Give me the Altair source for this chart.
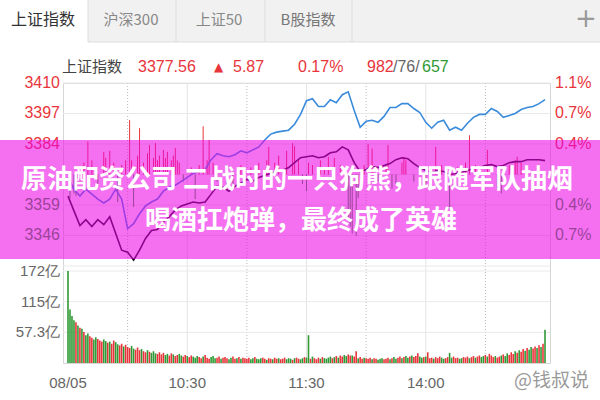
import altair as alt
import pandas as pd

# ---------------- data ----------------
# minutes since 09:30 (lunch break removed), one point every 3 minutes
line_minutes = list(range(0, 241, 3))

# 上证指数 intraday price
index_close = [
    3362.55, 3356.31, 3350.07, 3352.56, 3349.65, 3352.56, 3350.48, 3353.81, 3346.74, 3339.66,
    3338.83, 3335.50, 3339.66, 3344.66, 3347.99, 3348.40, 3351.73, 3353.81, 3356.73, 3358.39,
    3359.22, 3360.06, 3359.64, 3360.06, 3363.39, 3366.72, 3366.30, 3364.63, 3366.72, 3367.96,
    3369.63, 3368.80, 3370.46, 3371.29, 3372.13, 3372.96, 3373.37, 3374.62, 3376.70, 3378.78,
    3379.20, 3379.62, 3378.78, 3379.20, 3380.87, 3381.28, 3383.36, 3382.11, 3376.70, 3372.96,
    3373.79, 3375.04, 3374.62, 3375.46, 3376.29, 3377.95, 3378.78, 3378.37, 3376.29, 3374.62,
    3373.37, 3372.54, 3373.37, 3372.96, 3371.71, 3372.13, 3372.54, 3373.37, 3374.21, 3374.62,
    3375.46, 3375.87, 3375.04, 3375.46, 3376.70, 3377.12, 3377.12, 3377.95, 3377.95, 3377.95,
    3377.56,
]

# leading indicator line
lead_line = [
    3370.46, 3365.47, 3362.55, 3365.47, 3363.39, 3361.30, 3359.64, 3361.30, 3365.47, 3361.30,
    3348.82, 3350.90, 3355.06, 3358.39, 3360.06, 3361.30, 3364.63, 3366.30, 3367.13, 3368.80,
    3370.46, 3372.13, 3372.96, 3373.79, 3377.95, 3380.45, 3379.62, 3379.20, 3380.03, 3381.70,
    3380.87, 3382.11, 3383.36, 3386.28, 3388.77, 3389.61, 3390.02, 3390.44, 3392.94, 3397.10,
    3402.92, 3403.76, 3400.43, 3400.43, 3403.34, 3402.09, 3405.42, 3406.67, 3398.76, 3391.69,
    3394.18, 3394.60, 3393.77, 3396.27, 3400.01, 3400.01, 3401.68, 3401.68, 3399.59, 3397.93,
    3393.77, 3391.27, 3393.77, 3394.60, 3390.44, 3391.69, 3390.44, 3393.35, 3395.85, 3397.10,
    3397.10, 3399.59, 3398.35, 3395.85, 3396.68, 3397.51, 3399.18, 3400.01, 3400.43, 3401.68,
    3403.34,
]

prev_close = 3371.69

# buy / sell strength bars around the previous close
strength_minutes = [
    1, 3, 4, 8, 10, 12, 15, 18, 19, 21,
    23, 25, 27, 29, 31, 32, 33, 35, 36, 38,
    40, 41, 43, 44, 45, 46, 48, 49, 50, 52,
    53, 54, 55, 56, 58, 62, 64, 66, 68, 70,
    71, 73, 75, 80, 83, 87, 92, 96, 100, 101,
    104, 106, 110, 113, 114, 116, 118, 120, 121, 123,
    127, 129, 131, 134, 137, 141, 142, 143, 145, 146,
    149, 151, 153, 156, 160, 161, 163, 165, 168, 169,
    170, 174, 180, 185, 188, 192, 196, 200, 202, 205,
    211, 216, 218, 222, 225, 226, 228, 231, 234, 237,
]
strength_values = [
    -10, -8, -9, 5, 14, 6, -4, 9.5, 7, 10,
    5, -11.7, 4, 6, 23, 6, -13.7, 8, 19.6, 5,
    9, 12.5, 7, 13.3, 6, 8, 10.4, 7, 9.6, 6,
    8, 11.2, 6, 5, -3, 3, -10.4, 4, 20.4, 6,
    14.6, 5, -3, -6, -5, 4, 3, 5, 6, 11.7,
    5, 8, 10, 13.3, 12, 6, -4, -7, 5, 4,
    6, 3, 7.5, 7, 4, -18, -22, -25, -26, -10,
    4, 13, 11, -3, 4, 12.5, -6, -4, 5, 7.5,
    6, -3, -5, 11.7, 4, -14.6, 3, 5, 16.6, 4,
    10.4, -6.2, -8, 4, 6, 7.5, 5, 4, -3, 3,
]

# per-minute turnover (亿)
volume_values = [
    172, 100, 88, 80, 76, 70, 66, 64, 58, 52, 55, 50, 47, 44, 48, 45, 42, 40, 44, 41, 38, 40, 36, 42, 39, 35, 33, 36, 31, 34,
    30, 28, 32, 27, 25, 29, 24, 26, 22, 20, 24, 21, 19, 22, 18, 17, 20, 16, 19, 15, 17, 14, 18, 16, 13, 15, 17, 14, 12, 15,
    13, 11, 14, 12, 10, 13, 11, 9, 12, 15, 10, 8, 11, 13, 9, 10, 12, 8, 10, 11, 9, 7, 10, 12, 8, 9, 11, 8, 10, 9,
    8, 10, 7, 9, 11, 8, 7, 9, 10, 8, 6, 9, 8, 7, 10, 8, 9, 7, 8, 10, 7, 9, 8, 6, 9, 10, 8, 7, 9, 11,
    10, 52, 8, 12, 9, 7, 10, 8, 11, 9, 8, 10, 12, 9, 11, 13, 10, 14, 12, 15, 13, 16, 14, 14, 12, 22, 9, 11, 8, 10,
    9, 8, 10, 7, 9, 8, 6, 8, 9, 7, 8, 10, 7, 9, 11, 8, 10, 12, 9, 11, 13, 10, 12, 14, 11, 13, 18, 12, 10, 11,
    12, 20, 9, 10, 8, 11, 9, 12, 10, 8, 9, 11, 19, 10, 12, 9, 10, 8, 9, 11, 10, 12, 9, 11, 13, 10, 12, 14, 11, 13,
    15, 12, 17, 14, 11, 13, 10, 12, 14, 16, 13, 18, 15, 20, 17, 22, 19, 24, 21, 26, 23, 28, 25, 30, 27, 31, 28, 33, 30, 36,
    62,
]
# r = up minute, g = down minute
volume_sides = (
    "ggggrgrgrg" "grrggrrrgg" "rgrrggrrgr" "rrggrrrgrr" "grgggrrrrg" "grrgrrggrr"
    "grrgggrrgr" "rrgggrrgrr" "rggrrgrgrr" "rrggrgggrr" "grrgrrgrrr" "gggrgrrggr"
    "ggrgrrrgrg" "gggrgrgrrg" "grrgrrgrrg" "rrrgrrgggr" "rrgrggrrgr" "ggrgrrrggr"
    "grrrgrrrgg" "rrggrrrggr" "rrgrrgrrgg" "rgrrrgrrgr" "ggrrrgrgrr" "grggrrgrgr"
    "g"
)

price_ticks = [3410.39, 3397.49, 3384.59, 3371.69, 3358.79, 3345.89, 3332.99]
price_labels = ["3410", "3397", "3384", "", "3359", "3346", ""]
pct_labels = ["1.1%", "0.7%", "0.4%", "", "0.4%", "0.7%", ""]

vol_ticks = [57.3, 114.6, 172.0]
vol_labels = ["57.3亿", "115亿", "172亿"]

time_ticks = [0, 60, 120, 180]
time_labels = ["08/05", "10:30", "11:30", "14:00"]
half_hour_ticks = [30, 90, 150, 210]

# ---------------- styling ----------------
RED = "#e8353b"
GREEN = "#2f9a35"
GRAY = "#777777"
NUM_FONT = "Liberation Sans, Arial"
CJK_FONT = "Noto Sans CJK SC"

W, H = 487, 280
LEFT, TOP = 63, 83

x_scale = alt.Scale(domain=[0, 240], nice=False, zero=False)
price_scale = alt.Scale(domain=[3291.96, 3410.39], nice=False, zero=False)
vol_scale = alt.Scale(domain=[0, 523.5], nice=False, zero=False)

one = pd.DataFrame({"k": [0]})


def px(x):
    return alt.value(x - LEFT)


def py(y):
    return alt.value(y - TOP)


def text_at(text, x, y, size, color, align="left", font=NUM_FONT, weight="normal"):
    return alt.Chart(one).mark_text(
        text=text, align=align, baseline="middle", fontSize=size,
        color=color, font=font, fontWeight=weight,
    ).encode(x=px(x), y=py(y))


def rect_at(x1, x2, y1, y2, color, opacity=1.0):
    return alt.Chart(one).mark_rect(color=color, opacity=opacity).encode(
        x=px(x1), x2=px(x2), y=py(y1), y2=py(y2)
    )


def rule_at(x1, x2, y1, y2, color, width=1.0):
    return alt.Chart(one).mark_rule(color=color, strokeWidth=width).encode(
        x=px(x1), x2=px(x2), y=py(y1), y2=py(y2)
    )


# ---------------- tab bar ----------------
tabs = [
    rect_at(0, 600, 0, 42, "#f1f1f1"),
    rect_at(0, 88, 0, 42, "#ffffff"),
    rule_at(88, 600, 42, 42, "#dddddd"),
    rule_at(88, 88, 0, 42, "#dddddd"),
    rule_at(176, 176, 0, 42, "#dddddd"),
    rule_at(265, 265, 0, 42, "#dddddd"),
    rule_at(352, 352, 0, 42, "#dddddd"),
    text_at("上证指数", 43, 20, 16, "#333333", "center", CJK_FONT),
    text_at("沪深300", 131, 20, 15, "#888888", "center", CJK_FONT),
    text_at("上证50", 219, 20, 15, "#888888", "center", CJK_FONT),
    text_at("B股指数", 308, 20, 15, "#777777", "center", CJK_FONT),
    text_at("+", 586, 19, 26, "#999999", "center", "DejaVu Sans"),
]

# ---------------- header quote ----------------
header = [
    text_at("上证指数", 62, 67, 15, "#444444", "left", CJK_FONT),
    text_at("3377.56", 138, 67, 16, RED),
    text_at("▲", 214, 67, 12, RED, "left", "DejaVu Sans"),
    text_at("5.87", 233, 67, 16, RED),
    text_at("0.17%", 298, 67, 16, RED),
    text_at("982", 367, 67, 16, RED),
    text_at("/76/", 393, 67, 16, "#666666"),
    text_at("657", 422, 67, 16, GREEN),
]

# ---------------- grids ----------------
price_grid = alt.Chart(pd.DataFrame({"v": price_ticks})).mark_rule(
    color="#e9e9e9", strokeWidth=1
).encode(y=alt.Y("v:Q", scale=price_scale, axis=None))

vol_grid = alt.Chart(pd.DataFrame({"v": vol_ticks})).mark_rule(
    color="#e9e9e9", strokeWidth=1
).encode(y=alt.Y("v:Q", scale=vol_scale, axis=None))

solid_v = alt.Chart(pd.DataFrame({"m": time_ticks[1:]})).mark_rule(
    color="#e4e4e4", strokeWidth=1
).encode(x=alt.X("m:Q", scale=x_scale, axis=None))

dotted_v = alt.Chart(pd.DataFrame({"m": half_hour_ticks})).mark_rule(
    color="#b8b8b8", strokeWidth=1, strokeDash=[1, 2]
).encode(x=alt.X("m:Q", scale=x_scale, axis=None))

# ---------------- price panel ----------------
line_df = pd.DataFrame({"m": line_minutes, "close": index_close, "lead": lead_line})

strength_df = pd.DataFrame({
    "m": strength_minutes,
    "base": [prev_close] * len(strength_minutes),
    "top": [prev_close + v for v in strength_values],
    "up": [v > 0 for v in strength_values],
})
strength = alt.Chart(strength_df).mark_rule(strokeWidth=1).encode(
    x=alt.X("m:Q", scale=x_scale, axis=None),
    y=alt.Y("base:Q", scale=price_scale, axis=None),
    y2="top:Q",
    color=alt.condition("datum.up", alt.value(RED), alt.value(GREEN)),
)

lead = alt.Chart(line_df).mark_line(color="#3a8bdc", strokeWidth=1.6).encode(
    x=alt.X("m:Q", scale=x_scale, axis=None),
    y=alt.Y("lead:Q", scale=price_scale, axis=None),
)
close = alt.Chart(line_df).mark_line(color="#140818", strokeWidth=1.6).encode(
    x=alt.X("m:Q", scale=x_scale, axis=None),
    y=alt.Y("close:Q", scale=price_scale, axis=None),
)

label_df = pd.DataFrame({
    "v": price_ticks,
    "price": price_labels,
    "pct": pct_labels,
    "c": [RED, RED, RED, GRAY, GREEN, GREEN, GREEN],
})
left_labels = alt.Chart(label_df).mark_text(
    align="right", baseline="middle", fontSize=16, font=NUM_FONT
).encode(
    x=alt.value(-3),
    y=alt.Y("v:Q", scale=price_scale, axis=None),
    text="price:N",
    color=alt.Color("c:N", scale=None),
)
right_labels = alt.Chart(label_df).mark_text(
    align="left", baseline="middle", fontSize=16, font=NUM_FONT
).encode(
    x=alt.value(W + 5),
    y=alt.Y("v:Q", scale=price_scale, axis=None),
    text="pct:N",
    color=alt.Color("c:N", scale=None),
)

price_layer = alt.layer(price_grid, strength, lead, close, left_labels, right_labels)

# ---------------- volume panel ----------------
vol_df = pd.DataFrame({
    "m": list(range(len(volume_values))),
    "vol": volume_values,
    "side": list(volume_sides[: len(volume_values)]),
})
vol_bars = alt.Chart(vol_df).mark_bar(size=1.6).encode(
    x=alt.X("m:Q", scale=x_scale, axis=None),
    y=alt.Y("vol:Q", scale=vol_scale, axis=None),
    color=alt.condition("datum.side == 'r'", alt.value(RED), alt.value(GREEN)),
)
vol_label_df = pd.DataFrame({"v": vol_ticks, "t": vol_labels})
vol_text = alt.Chart(vol_label_df).mark_text(
    align="right", baseline="middle", fontSize=15, font=NUM_FONT, color="#666666"
).encode(
    x=alt.value(-3),
    y=alt.Y("v:Q", scale=vol_scale, axis=None),
    text="t:N",
)
vol_layer = alt.layer(vol_grid, vol_bars, vol_text)

# ---------------- time axis labels ----------------
time_text = alt.Chart(pd.DataFrame({"m": time_ticks, "t": time_labels})).mark_text(
    align="center", baseline="middle", fontSize=15, font=NUM_FONT, color="#666666"
).encode(
    x=alt.X("m:Q", scale=x_scale, axis=None),
    y=py(383),
    text="t:N",
)

# ---------------- headline banner ----------------
banner = [
    rect_at(0, 600, 140, 259, "#ee00e6", 0.56),
    text_at("原油配资公司 二战时的一只狗熊，跟随军队抽烟", 297, 180, 26, "#ffffff",
            "center", CJK_FONT, "bold"),
    text_at("喝酒扛炮弹，最终成了英雄", 301, 221, 26, "#ffffff",
            "center", CJK_FONT, "bold"),
]

# ---------------- watermark ----------------
watermark = [
    text_at("@钱叔说", 514, 381, 19, "#9a9a9a", "left", CJK_FONT),
]

chart = alt.layer(
    *tabs,
    solid_v,
    dotted_v,
    price_layer,
    vol_layer,
    time_text,
    *banner,
    *header,
    *watermark,
).resolve_scale(y="independent").properties(
    width=W,
    height=H,
    autosize=alt.AutoSizeParams(type="none"),
    padding={"left": LEFT, "top": TOP, "right": 600 - LEFT - W, "bottom": 400 - TOP - H},
    background="#ffffff",
).configure_view(stroke="#d6d6d6", strokeWidth=1)

chart.save("out.html", embed_options={"renderer": "svg", "actions": False})
